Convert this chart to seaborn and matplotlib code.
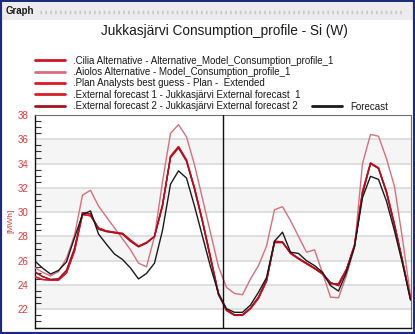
import numpy as np
import pandas as pd
import matplotlib
matplotlib.use("Agg")
import matplotlib.pyplot as plt
from matplotlib.lines import Line2D
from matplotlib.patches import Rectangle
import seaborn as sns

# Hourly consumption profile over two days [MWh]
hours = list(range(48))

cilia = [24.7, 24.45, 24.4, 24.4, 25.0, 26.8, 29.8, 29.7, 28.7, 28.45, 28.35, 28.25,
         27.7, 27.2, 27.5, 28.0, 30.5, 34.6, 35.4, 34.3, 32.0, 29.3, 26.3, 23.3,
         21.9, 21.5, 21.5, 22.05, 22.9, 24.3, 27.6, 27.55, 26.6, 26.15, 25.75, 25.35,
         24.9, 24.1, 24.1, 25.3, 27.3, 31.7, 34.05, 33.65, 31.7, 29.0, 26.0, 22.9]

aiolos = [25.45, 25.05, 24.75, 25.1, 26.2, 28.1, 31.4, 31.8, 30.5, 29.6, 28.7, 27.8,
          26.9, 25.8, 25.5, 28.0, 32.5, 36.5, 37.2, 36.2, 33.9, 31.1, 28.3, 25.5,
          23.8, 23.3, 23.2, 24.5, 25.6, 27.2, 30.2, 30.45, 29.3, 28.0, 26.7, 26.9,
          25.0, 23.0, 22.95, 24.8, 27.1, 34.0, 36.4, 36.25, 34.4, 32.1, 27.8, 23.1]

plan = [24.7, 24.45, 24.4, 24.4, 25.0, 26.8, 29.8, 29.7, 28.7, 28.45, 28.35, 28.25,
        27.7, 27.2, 27.5, 28.0, 30.5, 34.6, 35.4, 34.3, 32.0, 29.3, 26.3, 23.3,
        21.9, 21.5, 21.5, 22.05, 22.9, 24.3, 27.6, 27.55, 26.6, 26.15, 25.75, 25.35,
        24.9, 24.1, 24.1, 25.3, 27.3, 31.7, 34.05, 33.65, 31.7, 29.0, 26.0, 22.9]

external_1 = [25.1, 24.7, 24.45, 24.5, 25.2, 27.0, 29.95, 29.85, 28.6, 28.4, 28.3, 28.2,
              27.6, 27.15, 27.45, 28.0, 30.6, 34.5, 35.3, 34.2, 31.9, 29.2, 26.2, 23.2,
              21.95, 21.55, 21.55, 22.1, 23.0, 24.4, 27.5, 27.5, 26.65, 26.2, 25.8, 25.4,
              24.95, 24.2, 23.95, 25.25, 27.2, 31.5, 34.0, 33.6, 31.6, 28.9, 25.9, 22.85]

external_2 = [25.1, 24.7, 24.45, 24.5, 25.2, 27.0, 29.95, 29.85, 28.6, 28.4, 28.3, 28.2,
              27.6, 27.15, 27.45, 28.0, 30.6, 34.5, 35.3, 34.2, 31.9, 29.2, 26.2, 23.2,
              21.95, 21.55, 21.55, 22.1, 23.0, 24.4, 27.5, 27.5, 26.65, 26.2, 25.8, 25.4,
              24.95, 24.2, 23.95, 25.25, 27.2, 31.5, 34.0, 33.6, 31.6, 28.9, 25.9, 22.85]

forecast = [26.0, 25.4, 24.9, 25.2, 25.9, 27.9, 29.8, 30.1, 28.2, 27.35, 26.55, 26.1,
            25.4, 24.5, 24.95, 25.8, 28.5, 32.3, 33.4, 32.8, 30.5, 28.0, 25.5, 23.3,
            22.05, 21.75, 21.75, 22.35, 23.4, 24.6, 27.6, 28.35, 26.7, 26.6, 26.0, 25.6,
            25.05, 23.95, 23.5, 25.05, 27.15, 31.2, 32.95, 32.7, 30.9, 28.45, 25.75, 22.75]

series_names = [
    ".Cilia Alternative - Alternative_Model_Consumption_profile_1",
    ".Aiolos Alternative - Model_Consumption_profile_1",
    ".Plan Analysts best guess - Plan -  Extended",
    ".External forecast 1 - Jukkasjärvi External forecast  1",
    ".External forecast 2 - Jukkasjärvi External forecast 2",
    "Forecast",
]
series_values = [cilia, aiolos, plan, external_1, external_2, forecast]
series_colors = ["#d0142a", "#d8707c", "#e0142a", "#d81c2a", "#a01420", "#1a1a1a"]

title = "Jukkasjärvi Consumption_profile - Si (W)"
y_label = "[MWh]"
y_ticks = [22, 24, 26, 28, 30, 32, 34, 36, 38]
day_boundary = 23.5

df = pd.DataFrame({
    "hour": hours * len(series_names),
    "value": sum(series_values, []),
    "series": [n for n in series_names for _ in hours],
})
palette = dict(zip(series_names, series_colors))

sns.set_theme(style="white")
plt.rcParams["font.family"] = ["Liberation Sans", "DejaVu Sans"]

W, H = 415, 334
fig = plt.figure(figsize=(W / 100, H / 100), dpi=100)
fig.patch.set_facecolor("white")

# window frame and header strip
fig.patches.append(Rectangle((0, 0), 1, 1, transform=fig.transFigure,
                             fill=False, edgecolor="#1f2b7a", linewidth=3.0, zorder=10))
fig.patches.append(Rectangle((2 / W, 1 - 20 / H), 1 - 4 / W, 17 / H,
                             transform=fig.transFigure, facecolor="#ececef",
                             edgecolor="none", zorder=0))
fig.text(6 / W, 1 - 11.5 / H, "Graph", fontsize=7, fontweight="bold",
         color="#1a1a1a", va="center", ha="left")
fig.lines.append(Line2D([40 / W, 402 / W], [1 - 11.5 / H, 1 - 11.5 / H],
                        transform=fig.transFigure, color="#c8c8c8",
                        linewidth=2.5, linestyle=(0, (0.5, 0.9))))

fig.text(224 / W, 1 - 31 / H, title, fontsize=9.8, color="#1a1a1a",
         ha="center", va="center")

ax = fig.add_axes([34.5 / W, 1 - 327.5 / H, 376 / W, 212.5 / H])
ax.set_facecolor("white")

# alternating background bands and grid lines
for lo in y_ticks[::2][:-1]:
    ax.axhspan(lo, lo + 2, color="#f5f5f5", zorder=0, linewidth=0)
for t in y_ticks:
    ax.axhline(t, color="#dcdcdc", linewidth=1.3, zorder=0.5)

sns.lineplot(data=df, x="hour", y="value", hue="series", hue_order=series_names,
             palette=palette, linewidth=1.0, legend=False, ax=ax, zorder=3)

ax.axvline(day_boundary, color="#111111", linewidth=1.0, zorder=4)

ax.set_xlim(0, 47)
ax.set_ylim(20.62, 38.0)
ax.set_xticks([])
ax.set_yticks(y_ticks)
ax.set_yticks(np.arange(20.5, 38.01, 0.5), minor=True)
ax.tick_params(axis="y", which="major", direction="out", length=3, width=0.8,
               colors="#333333", labelcolor="#e03a3a", labelsize=7, pad=1.5)
ax.tick_params(axis="y", which="minor", direction="in", length=4, width=0.8,
               colors="#333333", left=True)
ax.set_xlabel("")
ax.set_ylabel(y_label, color="#e03a3a", fontsize=6, labelpad=2)

for side in ["left", "bottom"]:
    ax.spines[side].set_color("#111111")
    ax.spines[side].set_linewidth(1.0)
for side in ["top", "right"]:
    ax.spines[side].set_color("#707070")
    ax.spines[side].set_linewidth(0.8)

# legend: five entries in one column, Forecast beside the last one
handles = [Line2D([], [], color=c, linewidth=2.0) for c in series_colors]
leg1 = fig.legend(handles[:5], series_names[:5], loc="upper left",
                  bbox_to_anchor=(35 / W, 1 - 55.5 / H), frameon=False,
                  fontsize=7, handlelength=3.1, handletextpad=0.8,
                  labelspacing=0.145, borderpad=0, borderaxespad=0)
leg2 = fig.legend(handles[5:], series_names[5:], loc="upper left",
                  bbox_to_anchor=(312 / W, 1 - 101.5 / H), frameon=False,
                  fontsize=7, handlelength=3.1, handletextpad=0.8,
                  borderpad=0, borderaxespad=0)
for leg in (leg1, leg2):
    for txt in leg.get_texts():
        txt.set_color("#1a1a1a")

fig.savefig("out.png", dpi=100)
